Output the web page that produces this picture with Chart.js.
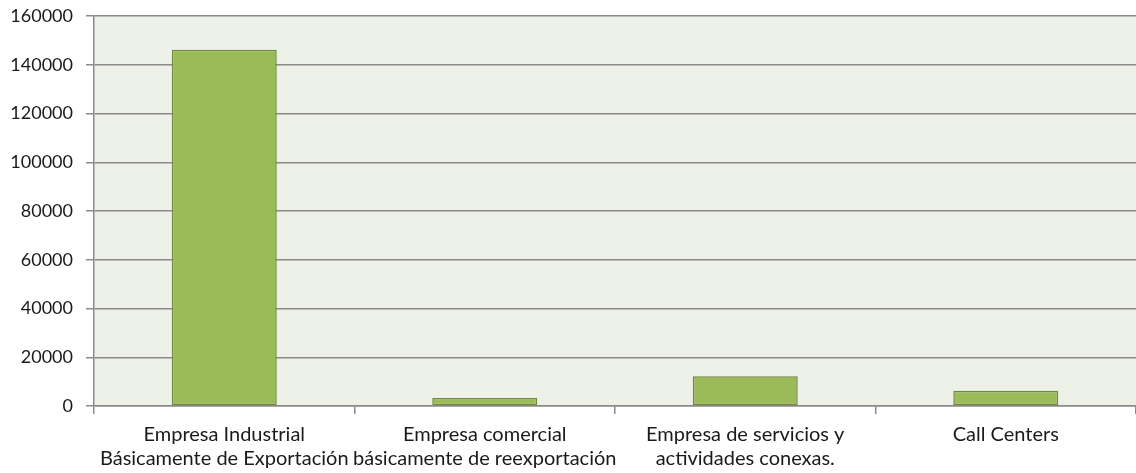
<!DOCTYPE html>
<html>
<head>
<meta charset="utf-8">
<script src="https://cdn.jsdelivr.net/npm/chart.js@4.4.1/dist/chart.umd.min.js"></script>
<style>
html,body{margin:0;padding:0;background:#fff;}
#wrap{width:1136px;height:473px;}
</style>
</head>
<body>
<div id="wrap"><canvas id="c" width="1136" height="473"></canvas></div>
<script>
const categories = [
  ["Empresa Industrial", "Básicamente de Exportación"],
  ["Empresa comercial", "básicamente de reexportación"],
  ["Empresa de servicios y", "actividades conexas."],
  ["Call Centers"]
];
const values = [146200, 3300, 12200, 6300];
const yTicks = [0, 20000, 40000, 60000, 80000, 100000, 120000, 140000, 160000];

const bgPlugin = {
  id: 'plotBg',
  beforeDraw(chart) {
    const {ctx, chartArea: a} = chart;
    ctx.save();
    ctx.fillStyle = '#EEF1E7';
    ctx.fillRect(a.left, a.top, a.right - a.left, a.bottom - a.top);
    ctx.restore();
  }
};

new Chart(document.getElementById('c'), {
  type: 'bar',
  data: {
    labels: categories,
    datasets: [{
      data: values,
      backgroundColor: '#9BBB59',
      borderColor: '#71893F',
      borderWidth: 1.5,
      borderSkipped: false,
      categoryPercentage: 0.403,
      barPercentage: 1.0
    }]
  },
  options: {
    responsive: false,
    animation: false,
    layout: { padding: { top: 16, right: 0, left: 0, bottom: 0 } },
    plugins: { legend: { display: false }, tooltip: { enabled: false } },
    scales: {
      x: {
        grid: { drawOnChartArea: false, drawTicks: true, tickLength: 8, color: '#8A8A8A', lineWidth: 1.5 },
        border: { display: true, color: '#8A8A8A', width: 1.5 },
        ticks: { color: '#1a1a1a', font: { family: 'Lato', size: 20, lineHeight: 1.2 }, maxRotation: 0, minRotation: 0, autoSkip: false, padding: 9 },
        afterFit(s) { s.height = 67; s.paddingLeft = 0; s.paddingRight = 0; }
      },
      y: {
        min: 0, max: 160000,
        afterBuildTicks(s) { s.ticks = yTicks.map(v => ({ value: v })); },
        grid: { color: '#8A8A8A', lineWidth: 1.5, tickLength: 8 },
        border: { display: true, color: '#8A8A8A', width: 1.5 },
        ticks: { color: '#1a1a1a', font: { family: 'Lato', size: 18 }, padding: 13, callback: v => String(v) },
        afterFit(s) { s.width = 94; s.paddingTop = 0; s.paddingBottom = 0; }
      }
    }
  },
  plugins: [bgPlugin]
});
</script>
</body>
</html>
